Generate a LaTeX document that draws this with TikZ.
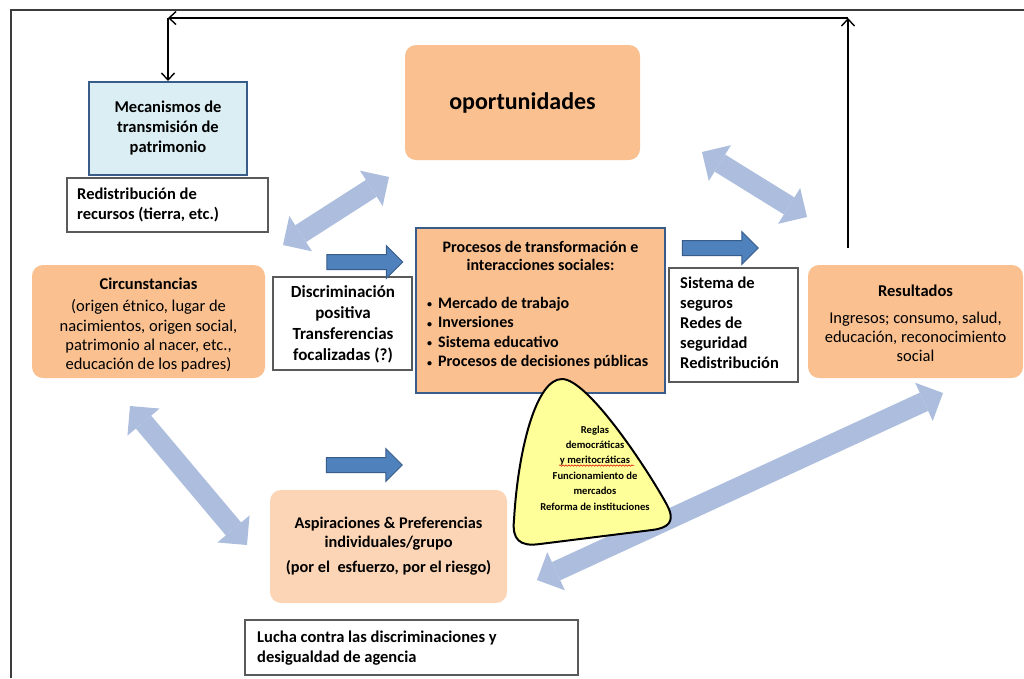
\documentclass[tikz,border=0pt]{standalone}
\usepackage{fontspec}
\setmainfont{Carlito}
\usetikzlibrary{arrows.meta,shapes.arrows,decorations.pathmorphing}
\definecolor{peach}{RGB}{250,192,144}
\definecolor{peachlt}{RGB}{251,213,181}
\definecolor{boxblue}{RGB}{218,238,243}
\definecolor{edgeblue}{RGB}{56,93,138}
\definecolor{arrowblue}{RGB}{79,129,189}
\definecolor{lightarr}{RGB}{172,189,222}
\definecolor{triyellow}{RGB}{255,255,153}
\definecolor{framegray}{RGB}{60,60,60}
\definecolor{wbgray}{RGB}{90,90,90}
\newcommand\smallbul{\makebox[11pt][l]{\raisebox{0.5pt}{\fontsize{10}{10}\selectfont\textbullet}}}
\begin{document}
\begin{tikzpicture}[x=1pt,y=-1pt,
  peachbox/.style={fill=peach, rounded corners=11pt, inner sep=0pt},
  whitebox/.style={draw=wbgray, fill=white, line width=1.3pt, inner sep=0pt},
  txt/.style={font={\fontsize{16.5}{20}\selectfont}, inner sep=0pt},
  btxt/.style={font={\fontsize{16.5}{20}\selectfont\bfseries}, inner sep=0pt},
  blockarrow/.style={single arrow, fill=arrowblue, draw=edgeblue, line width=1pt,
    inner xsep=0pt, inner ysep=7pt, single arrow head extend=9pt, minimum height=76pt},
  lightarrow/.style={line width=20pt, draw=lightarr,
    {Triangle[length=21pt,width=42pt,line width=0pt]}-{Triangle[length=21pt,width=42pt,line width=0pt]}},
  feedback/.style={line width=1.4pt, black},
  fbtip/.style={-{Straight Barb[length=7pt,width=13pt,line width=1.4pt]}}
]
\useasboundingbox (0,0) rectangle (1024,678);
\fill[white] (0,0) rectangle (1024,678);

% frame
\draw[framegray, line width=2pt] (11,678) -- (11,10) -- (1024,10);

% light double arrows (behind)
\coordinate (a1) at (283,245); \coordinate (a2) at (389,177);
\coordinate (b1) at (702,152); \coordinate (b2) at (807,217);
\coordinate (c1) at (130,406); \coordinate (c2) at (247,545);
\coordinate (d1) at (537,580); \coordinate (d2) at (943,393);
\draw[lightarrow] (a1) -- (a2);
\draw[lightarrow] (b1) -- (b2);
\draw[lightarrow] (c1) -- (c2);
\draw[lightarrow] (d1) -- (d2);

% boxes
\node[draw=edgeblue, fill=boxblue, line width=2pt, minimum width=158pt, minimum height=93pt,
  align=center, btxt] (meca) at (168,128.5) {Mecanismos de\\transmisión de\\patrimonio};
\node[whitebox, minimum width=201pt, minimum height=54pt] (redis) at (167.5,205) {};
\node[btxt, anchor=west, align=left] (redistxt) at (77,205) {Redistribución de\\recursos (tierra, etc.)};

\node[peachbox, minimum width=235pt, minimum height=115pt,
  font={\fontsize{24}{28}\selectfont\bfseries}] (oport) at (522.5,102.5) {oportunidades};

\node[peachbox, minimum width=233pt, minimum height=113pt] (circ) at (148.5,321.5) {};
\node[btxt] (circtit) at (148.5,284) {Circunstancias};
\node[txt, align=center, font={\fontsize{16.5}{19.4}\selectfont}] (circtxt) at (148.5,336)
  {(origen étnico, lugar de\\nacimientos, origen social,\\patrimonio al nacer, etc.,\\educación de los padres)};

\node[whitebox, minimum width=139pt, minimum height=93pt] (disc) at (342.5,323.5) {};
\node[align=center, inner sep=0pt, font={\fontsize{17}{21}\selectfont\bfseries}] (disctxt) at (343,324.5)
  {Discriminación\\positiva\\Transferencias\\focalizadas (?)};

\node[fill=peach, draw=edgeblue, line width=2pt, minimum width=249pt, minimum height=165pt] (proc) at (540.5,310.5) {};
\node[btxt, align=center, font={\fontsize{16}{18.5}\selectfont\bfseries}] (proctit) at (540.5,256)
  {Procesos de transformación e\\interacciones sociales:};
\node[btxt, align=left, anchor=west, font={\fontsize{16}{19.5}\selectfont\bfseries}] (proclist) at (427,333)
  {\smallbul Mercado de trabajo\\\smallbul Inversiones\\\smallbul Sistema educativo\\\smallbul Procesos de decisiones públicas};

\node[whitebox, minimum width=129pt, minimum height=114pt] (sist) at (733.5,325) {};
\node[btxt, align=left, anchor=west] (sisttxt) at (680,323)
  {Sistema de\\seguros\\Redes de\\seguridad\\Redistribución};

\node[peachbox, minimum width=215pt, minimum height=113pt] (res) at (915.5,321.5) {};
\node[btxt] (restit) at (915.5,291) {Resultados};
\node[txt, align=center, font={\fontsize{16.5}{19}\selectfont}] (restxt) at (915.5,337)
  {Ingresos; consumo, salud,\\educación, reconocimiento\\social};

\node[fill=peachlt, rounded corners=11pt, inner sep=0pt, minimum width=237pt, minimum height=113pt] (asp) at (388.5,546.5) {};
\node[btxt, align=center, font={\fontsize{16.3}{19}\selectfont\bfseries}] (asptit) at (388.5,534)
  {Aspiraciones \& Preferencias\\individuales/grupo};
\node[btxt, font={\fontsize{16.3}{19}\selectfont\bfseries}] (asptxt) at (388.5,568) {(por el\ \ esfuerzo, por el riesgo)};

\node[whitebox, minimum width=333pt, minimum height=55pt] (lucha) at (411.5,647.5) {};
\node[btxt, align=left, anchor=west] (luchatxt) at (257,648)
  {Lucha contra las discriminaciones y\\desigualdad de agencia};

% dark block arrows
\node[blockarrow] (ar1) at (361,262) {};
\node[blockarrow] (ar2) at (716.5,248) {};
\node[blockarrow] (ar3) at (360.5,465) {};

% yellow rounded triangle
\draw[fill=triyellow, draw=black, line width=2pt]
  (562,379) .. controls (588,379) and (648,470) .. (667,505)
  .. controls (676,522) and (668,528) .. (652,530)
  -- (540,544) .. controls (519,547) and (512,539) .. (514,520)
  .. controls (518,450) and (536,379) .. (562,379) -- cycle;
\node[align=center, inner sep=0pt, font={\fontsize{10.6}{15.4}\selectfont\bfseries}] (reglas) at (595,468)
  {Reglas\\democráticas\\y meritocráticas\\Funcionamiento de\\mercados\\Reforma de instituciones};
\draw[red!85!black, line width=0.5pt, decorate, decoration={snake, amplitude=0.7pt, segment length=3pt}]
  (559,465.5) -- (634,465.5);

% feedback loop
\coordinate (fbs) at (848,248);
\coordinate (fbr) at (848,18);
\coordinate (fbl) at (168,18);
\draw[feedback, fbtip] (fbs) -- (fbr);
\draw[feedback, fbtip] (fbr) -- (fbl);
\draw[feedback, fbtip] (fbl) -- (meca.north);
\end{tikzpicture}
\end{document}
